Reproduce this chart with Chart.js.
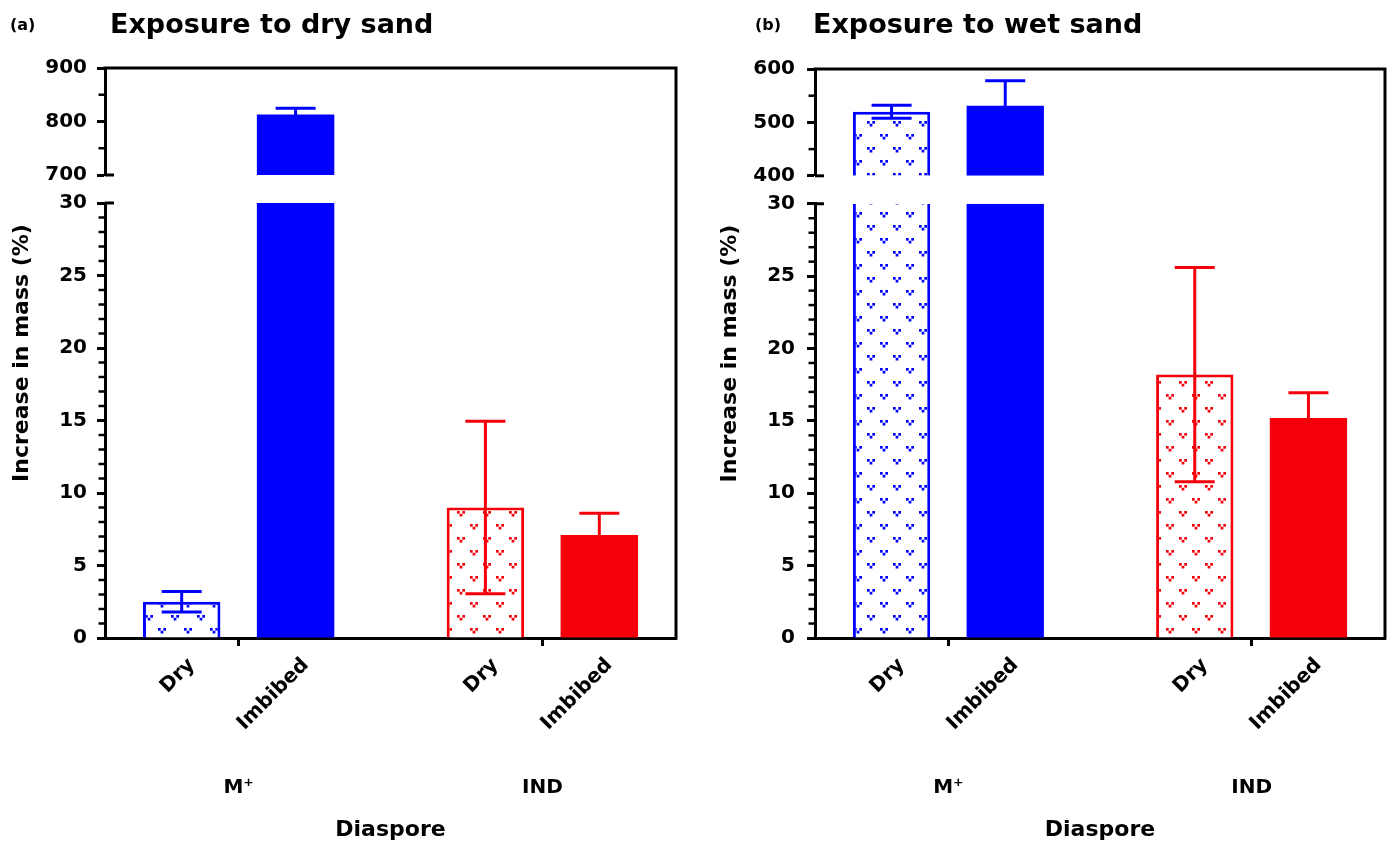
<!DOCTYPE html>
<html>
<head>
<meta charset="utf-8">
<script src="https://cdn.jsdelivr.net/npm/chart.js"></script>
<style>
  body { margin: 0; background: #fff; }
  #wrap { position: relative; width: 1392px; height: 844px; }
  canvas { position: absolute; top: 0; }
  #chartA { left: 0; }
  #chartB { left: 696px; }
</style>
</head>
<body>
<div id="wrap">
  <canvas id="chartA" width="696" height="844"></canvas>
  <canvas id="chartB" width="696" height="844"></canvas>
</div>
<script>
// ===== DATA =====
const groups = ['M\u207A', 'IND'];
const treatments = ['Dry', 'Imbibed'];

// (a) exposure to dry sand, mean and error
const dryMeanA = [2.5, 9.0];
const dryErrA = [0.7, 5.95];
const imbMeanA = [813, 7.1];
const imbErrA = [12, 1.5];

// (b) exposure to wet sand
const dryMeanB = [520, 18.2];
const dryErrB = [12, 7.4];
const imbMeanB = [531, 15.2];
const imbErrB = [47, 1.75];

// broken axis: lower part and upper part
const lowRange = [0, 30];
const topRangeA = [700, 900];
const topRangeB = [400, 600];

const colours = ['#0000ff', '#f5000a'];
const FONT = 'DejaVu Sans';

// ===== PATTERN for the "Dry" bars =====
function makePattern(colour) {
  const c = document.createElement('canvas');
  c.width = 26; c.height = 26;
  const g = c.getContext('2d');
  g.fillStyle = '#fff';
  g.fillRect(0, 0, 26, 26);
  g.fillStyle = colour;
  [[6, 6], [19, 19]].forEach(([x, y]) => {
    g.fillRect(x - 4, y - 2, 2.7, 2.7);
    g.fillRect(x + 1.3, y - 2, 2.7, 2.7);
    g.fillRect(x - 1.35, y + 0.8, 2.7, 2.7);
  });
  return g.createPattern(c, 'repeat');
}
const patterns = colours.map(makePattern);

// ===== ONE PANEL =====
function buildPanel(id, cfg) {
  const low = lowRange[1];

  // bar pieces: lower part clipped at 30, upper part only for big values
  const pieces = (means, top) => means.map((v, i) => ({
    x: i,
    y: top ? (v > low ? [cfg.topRange[0], v] : null) : [lowRange[0], Math.min(v, low)]
  }));
  const dryBorder = (means, top) => means.map(v => ({
    left: 3, right: 3, bottom: 0, top: (top || v <= low) ? 3 : 0
  }));

  const font = size => ({family: FONT, size: size, weight: 'bold'});

  const decor = {
    id: 'decor',
    afterDatasetsDraw(chart) {
      // error bars
      const ctx = chart.ctx;
      const metas = [chart.getDatasetMeta(0), chart.getDatasetMeta(1)];
      [[cfg.dry, cfg.dryErr], [cfg.imb, cfg.imbErr]].forEach(([means, errs], s) => {
        means.forEach((v, i) => {
          const sc = v > low ? chart.scales.yTop : chart.scales.y;
          const x = metas[s].data[i].x;
          const yHi = sc.getPixelForValue(v + errs[i]);
          const yLo = sc.getPixelForValue(v - errs[i]);
          ctx.save();
          ctx.strokeStyle = colours[i];
          ctx.lineWidth = 3;
          ctx.beginPath();
          ctx.moveTo(x, yLo); ctx.lineTo(x, yHi);
          ctx.moveTo(x - 20, yHi); ctx.lineTo(x + 20, yHi);
          ctx.moveTo(x - 20, yLo); ctx.lineTo(x + 20, yLo);
          ctx.stroke();
          ctx.restore();
        });
      });
    },
    afterDraw(chart) {
      const ctx = chart.ctx;
      const a = chart.chartArea;
      ctx.save();
      ctx.strokeStyle = '#000';

      // frame top and right
      ctx.lineWidth = 3;
      ctx.lineCap = 'square';
      ctx.beginPath();
      ctx.moveTo(a.left, a.top);
      ctx.lineTo(a.right, a.top);
      ctx.lineTo(a.right, a.bottom);
      ctx.stroke();
      ctx.lineCap = 'butt';

      // minor ticks
      const yTop = chart.scales.yTop, yLow = chart.scales.y;
      [[yTop, 100], [yLow, 5]].forEach(([sc, major]) => {
        ctx.lineWidth = 2.5;
        sc.ticks.forEach(t => {
          if (t.value % major === 0) return;
          const py = sc.getPixelForValue(t.value);
          ctx.beginPath();
          ctx.moveTo(sc.right - 6.5, py);
          ctx.lineTo(sc.right, py);
          ctx.stroke();
        });
      });

      // break caps
      ctx.lineWidth = 3;
      [yTop.getPixelForValue(cfg.topRange[0]), yLow.getPixelForValue(low)].forEach(py => {
        ctx.beginPath();
        ctx.moveTo(yLow.right, py);
        ctx.lineTo(yLow.right + 9, py);
        ctx.stroke();
      });

      ctx.fillStyle = '#000';

      // rotated treatment labels
      ctx.font = 'bold 20px ' + FONT;
      ctx.textAlign = 'right';
      ctx.textBaseline = 'middle';
      [chart.getDatasetMeta(0), chart.getDatasetMeta(1)].forEach((m, s) => {
        m.data.forEach(bar => {
          ctx.save();
          ctx.translate(bar.x + 10, a.bottom + 24);
          ctx.rotate(-Math.PI / 4);
          ctx.fillText(treatments[s], 0, 0);
          ctx.restore();
        });
      });

      // y axis title
      ctx.save();
      ctx.font = 'bold 22px ' + FONT;
      ctx.textAlign = 'center';
      ctx.translate(cfg.yTitleX, (a.top + a.bottom) / 2);
      ctx.rotate(-Math.PI / 2);
      ctx.fillText('Increase in mass (%)', 0, 0);
      ctx.restore();

      // panel letter and title
      ctx.textAlign = 'left';
      ctx.textBaseline = 'alphabetic';
      ctx.font = 'bold 16px ' + FONT;
      ctx.fillText(cfg.letter, cfg.letterX, 30);
      ctx.font = 'bold 27px ' + FONT;
      ctx.fillText(cfg.title, cfg.titleX, 33);
      ctx.restore();
    }
  };

  const yCommon = {
    type: 'linear',
    position: 'left',
    stack: 'left',
    stacked: false,
    afterFit: s => { s.width = cfg.left; },
    border: {color: '#000', width: 3}
  };

  // left boxes are laid out in reverse order: lower part first here
  new Chart(document.getElementById(id), {
    type: 'bar',
    data: {
      datasets: [
        {label: 'Dry', stack: 'dry', yAxisID: 'y', data: pieces(cfg.dry, false),
         backgroundColor: patterns, borderColor: colours, borderWidth: dryBorder(cfg.dry, false), borderSkipped: false},
        {label: 'Imbibed', stack: 'imb', yAxisID: 'y', data: pieces(cfg.imb, false),
         backgroundColor: colours, borderWidth: 0},
        {label: 'Dry', stack: 'dry', yAxisID: 'yTop', data: pieces(cfg.dry, true),
         backgroundColor: patterns, borderColor: colours, borderWidth: dryBorder(cfg.dry, true), borderSkipped: false},
        {label: 'Imbibed', stack: 'imb', yAxisID: 'yTop', data: pieces(cfg.imb, true),
         backgroundColor: colours, borderWidth: 0}
      ]
    },
    options: {
      responsive: false,
      animation: false,
      events: [],
      categoryPercentage: 0.75,
      barPercentage: 0.68,
      layout: {padding: {top: cfg.top, right: cfg.right, bottom: 0, left: 0}},
      plugins: {legend: {display: false}, tooltip: {enabled: false}},
      scales: {
        x: {
          type: 'linear',
          min: -0.44,
          max: 1.44,
          offset: false,
          afterBuildTicks: s => { s.ticks = groups.map((g, i) => ({value: i})); },
          afterFit: s => { s.height = 844 - 638; s.paddingLeft = 0; s.paddingRight = 0; },
          ticks: {callback: v => groups[v], font: font(20), color: '#000', padding: 130, autoSkip: false, maxRotation: 0},
          grid: {offset: false, drawOnChartArea: false, tickLength: 8, tickWidth: 3, color: '#000', tickColor: '#000'},
          border: {color: '#000', width: 3},
          title: {display: true, text: 'Diaspore', font: font(22), color: '#000', padding: {top: 0, bottom: 1}}
        },
        y: Object.assign({}, yCommon, {
          stackWeight: 435,
          min: lowRange[0],
          max: lowRange[1],
          ticks: {stepSize: 1, autoSkip: false, font: font(20), color: '#000', padding: cfg.pad,
                  callback: v => v % 5 === 0 ? String(v) : ''},
          grid: {drawOnChartArea: false, tickLength: 8, tickWidth: 3,
                 tickColor: c => (c.tick && c.tick.value % 5 === 0) ? '#000' : 'rgba(0,0,0,0)'}
        }),
        yGap: {
          type: 'linear', position: 'left', stack: 'left', stackWeight: 28, min: 0, max: 1,
          afterFit: s => { s.width = cfg.left; },
          ticks: {display: false}, grid: {display: false}, border: {display: false}
        },
        yTop: Object.assign({}, yCommon, {
          stackWeight: 107,
          min: cfg.topRange[0],
          max: cfg.topRange[1],
          ticks: {stepSize: 50, autoSkip: false, font: font(20), color: '#000', padding: cfg.pad,
                  callback: v => v % 100 === 0 ? String(v) : ''},
          grid: {drawOnChartArea: false, tickLength: 8, tickWidth: 3,
                 tickColor: c => (c.tick && c.tick.value % 100 === 0) ? '#000' : 'rgba(0,0,0,0)'}
        })
      }
    },
    plugins: [decor]
  });
}

// ===== DRAW =====
buildPanel('chartA', {
  letter: '(a)', letterX: 10, title: 'Exposure to dry sand', titleX: 110,
  left: 105, right: 20, top: 68, pad: 10, yTitleX: 22, topRange: topRangeA,
  dry: dryMeanA, dryErr: dryErrA, imb: imbMeanA, imbErr: imbErrA
});
buildPanel('chartB', {
  letter: '(b)', letterX: 59, title: 'Exposure to wet sand', titleX: 117,
  left: 119, right: 7, top: 69, pad: 12, yTitleX: 34, topRange: topRangeB,
  dry: dryMeanB, dryErr: dryErrB, imb: imbMeanB, imbErr: imbErrB
});
</script>
</body>
</html>
